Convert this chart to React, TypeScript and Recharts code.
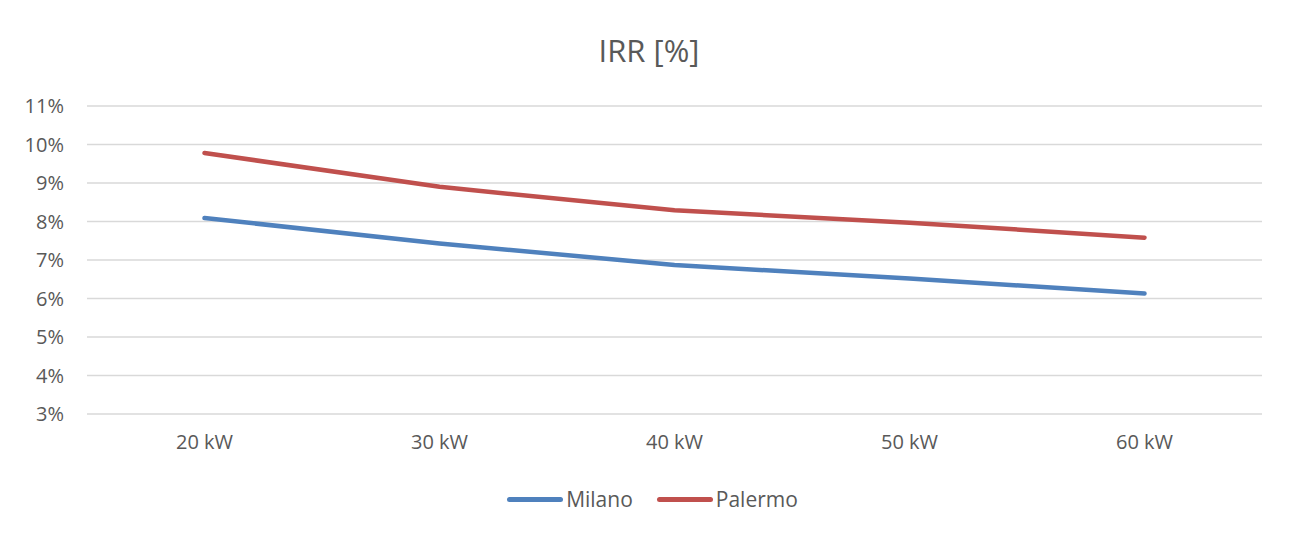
import { LineChart, Line, XAxis, YAxis, CartesianGrid, Legend } from "recharts";

const categories = ["20 kW", "30 kW", "40 kW", "50 kW", "60 kW"];
const milano = [8.09, 7.43, 6.87, 6.52, 6.13];
const palermo = [9.78, 8.9, 8.29, 7.97, 7.58];
const yTicks = [3, 4, 5, 6, 7, 8, 9, 10, 11];

const series = [
  { key: "Milano", color: "#4F81BD" },
  { key: "Palermo", color: "#C0504D" },
];

const data = categories.map((c, i) => ({ name: c, Milano: milano[i], Palermo: palermo[i] }));

const FONT = "'Open Sans', sans-serif";
const INK = "#595959";

function LegendContent() {
  return (
    <div style={{ display: "flex", justifyContent: "center", alignItems: "center", height: 26, fontFamily: FONT, paddingLeft: 16 }}>
      {series.map((s, i) => (
        <div key={s.key} style={{ display: "flex", alignItems: "center", marginRight: i === 0 ? 24 : 0 }}>
          <span style={{ display: "inline-block", width: 56, height: 5, borderRadius: 3, background: s.color, marginRight: 3 }} />
          <span style={{ fontSize: 21, color: INK }}>{s.key}</span>
        </div>
      ))}
    </div>
  );
}

export default function App() {
  return (
    <div style={{ position: "relative", width: 1289, height: 534, margin: -8, background: "#fff", overflow: "hidden" }}>
      <div style={{ position: "absolute", left: 6, top: 7, width: 1400, height: 600, borderLeft: "1px solid #d9d9d9", borderTop: "1px solid #d9d9d9" }} />
      <div style={{ position: "absolute", left: 0, top: 30, width: 1298, textAlign: "center", fontFamily: FONT, fontSize: 31, color: INK, lineHeight: "40px" }}>
        IRR [%]
      </div>
      <div style={{ position: "absolute", left: 0, top: 0 }}>
        <LineChart width={1289} height={534} data={data} margin={{ top: 106, right: 27, left: 0, bottom: 64 }}>
          <CartesianGrid vertical={false} stroke="#d9d9d9" strokeWidth={1.3} />
          <XAxis
            dataKey="name"
            axisLine={false}
            tickLine={false}
            tickMargin={15}
            height={30}
            padding={{ left: 117.5, right: 117.5 }}
            tick={{ fontSize: 20, fill: INK, fontFamily: FONT }}
          />
          <YAxis
            domain={[3, 11]}
            ticks={yTicks}
            width={87}
            axisLine={false}
            tickLine={false}
            tickMargin={17}
            tickFormatter={(v) => `${v}%`}
            tick={{ fontSize: 20, fill: INK, fontFamily: FONT }}
          />
          <Legend
            content={<LegendContent />}
            wrapperStyle={{ position: "absolute", top: 486, left: 0, width: 1289, height: 26 }}
          />
          {series.map((s) => (
            <Line
              key={s.key}
              dataKey={s.key}
              type="linear"
              stroke={s.color}
              strokeWidth={4.5}
              strokeLinecap="round"
              strokeLinejoin="round"
              dot={false}
              activeDot={false}
              isAnimationActive={false}
            />
          ))}
        </LineChart>
      </div>
    </div>
  );
}
